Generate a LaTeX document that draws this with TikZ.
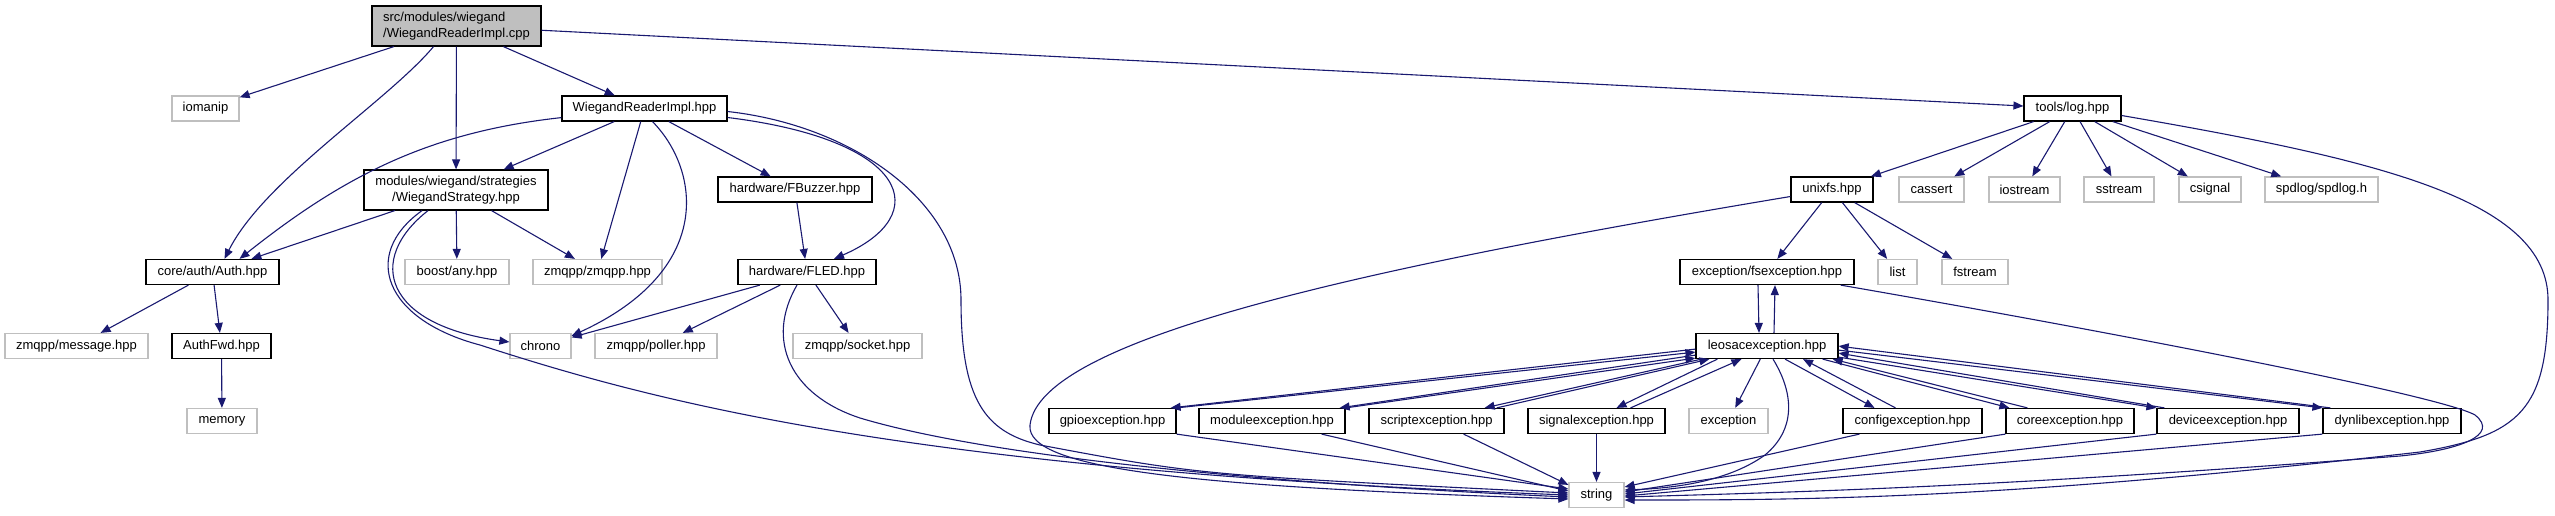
\documentclass[tikz,border=0pt]{standalone}
\usepackage{fontspec}
\setmainfont{Liberation Sans}
\usepackage{xcolor}
\usetikzlibrary{arrows.meta,calc,positioning}

\definecolor{edgeblue}{HTML}{191970}
\definecolor{sysgray}{HTML}{BFBFBF}

\begin{document}
\begin{tikzpicture}[x=1pt, y=-1pt,
    filebox/.style={draw=black, line width=1.2pt, minimum height=25pt, inner sep=0pt, font=\fontsize{13}{16}\selectfont},
    sysbox/.style={filebox, draw=sysgray},
    incl/.style={edgeblue, line width=1.1pt, -{Triangle[length=10pt, width=8pt]}}]
        \useasboundingbox (0,0) rectangle (2555,515);

        % Source file
        \node[filebox, fill=sysgray, minimum width=169, minimum height=40, align=left] (main) at (456.5,26) {src/modules/wiegand\\/WiegandReaderImpl.cpp};

        % Second row
        \node[sysbox, minimum width=67] (iomanip) at (205.5,108.5) {iomanip};
        \node[filebox, minimum width=165] (wri) at (644.5,108.5) {WiegandReaderImpl.hpp};
        \node[filebox, minimum width=97] (log) at (2072.5,108.5) {tools/log.hpp};

        % Third row
        \node[filebox, minimum width=184, minimum height=40, align=center] (ws) at (456,190) {modules/wiegand/strategies\\/WiegandStrategy.hpp};
        \node[filebox, minimum width=154] (fbuzzer) at (795,189.5) {hardware/FBuzzer.hpp};
        \node[filebox, minimum width=82] (unixfs) at (1832,189.5) {unixfs.hpp};
        \foreach \fname/\x/\w in {cassert/1931.5/65, iostream/2024.5/71, sstream/2119/70, csignal/2210/62}
            \node[sysbox, minimum width=\w] (\fname) at (\x,189.5) {\fname};
        \node[sysbox, minimum width=113] (spdlog) at (2321.5,189.5) {spdlog/spdlog.h};

        % Fourth row
        \node[filebox, minimum width=133] (auth) at (212.5,272) {core/auth/Auth.hpp};
        \node[sysbox, minimum width=104] (boostany) at (457,272) {boost/any.hpp};
        \node[sysbox, minimum width=129] (zmqpp) at (597.5,272) {zmqpp/zmqpp.hpp};
        \node[filebox, minimum width=138] (fled) at (807,272) {hardware/FLED.hpp};
        \node[filebox, minimum width=174] (fsexc) at (1767,272) {exception/fsexception.hpp};
        \node[sysbox, minimum width=39] (list) at (1897.5,272) {list};
        \node[sysbox, minimum width=66] (fstream) at (1975,272) {fstream};

        % Fifth row
        \node[sysbox, minimum width=143] (message) at (76.5,346) {zmqpp/message.hpp};
        \node[filebox, minimum width=99] (authfwd) at (221.5,346) {AuthFwd.hpp};
        \node[sysbox, minimum width=61] (chrono) at (540.5,346) {chrono};
        \node[sysbox, minimum width=122] (poller) at (656,346) {zmqpp/poller.hpp};
        \node[sysbox, minimum width=129] (socket) at (857.5,346) {zmqpp/socket.hpp};
        \node[filebox, minimum width=142] (leosac) at (1767,346) {leosacexception.hpp};

        % Sixth row
        \node[sysbox, minimum width=70] (memory) at (222,421) {memory};
        \foreach \fname/\x/\w in {gpio/1112.5/127, module/1272/146, script/1436.5/135, signal/1596.5/137, config/1912.5/139, core/2070/128, device/2228/142, dynlib/2392/138}
            \node[filebox, minimum width=\w] (\fname) at (\x,421) {\fname exception.hpp};
        \node[sysbox, minimum width=79] (exception) at (1728.5,421) {exception};

        % Bottom
        \node[sysbox, minimum width=55] (string) at (1596.5,495) {string};

        % Includes of the source file
        \draw[incl] (main) -- (iomanip);
        \draw[incl] ($(main.south)+(-23,0)$) .. controls (388,101) and (264,180) .. ($(auth.north)+(12,0)$);
        \draw[incl] (main) -- (ws);
        \draw[incl] (main) -- (wri);
        \draw[incl] (main) -- (log);

        % WiegandReaderImpl.hpp
        \draw[incl] ($(wri.south west)+(0,-4)$) .. controls (430,132) and (345,175) .. ($(auth.north)+(27,0)$);
        \draw[incl] (wri) -- (ws);
        \draw[incl] (wri) -- (zmqpp);
        \draw[incl] ($(wri.south)+(8,0)$) .. controls (700,170) and (715,270) .. ($(chrono.north east)+(0,3)$);
        \draw[incl] (wri) -- (fbuzzer);
        \draw[incl] ($(wri.east)+(0,9)$) .. controls (910,140) and (935,215) .. ($(fled.north)+(27,0)$);
        \draw[incl] ($(wri.east)+(0,3)$) .. controls (850,125) and (961,200) .. (961,300) .. controls (961,400) and (985,432) .. (1040,445) .. controls (1200,475) .. ($(string.west)+(0,-2)$);

        % WiegandStrategy.hpp
        \draw[incl] (ws) -- (auth);
        \draw[incl] (ws) -- (boostany);
        \draw[incl] (ws) -- (zmqpp);
        \draw[incl] ($(ws.south)+(-28,0)$) .. controls (365,260) and (385,325) .. ($(chrono.west)+(0,-4)$);
        \draw[incl] ($(ws.south)+(-34,0)$) .. controls (360,255) and (385,320) .. (480,345) .. controls (650,400) and (900,470) .. (string.west);

        % Auth.hpp
        \draw[incl] (auth) -- (message);
        \draw[incl] (auth) -- (authfwd);
        \draw[incl] (authfwd) -- (memory);

        % Hardware headers
        \draw[incl] (fbuzzer) -- (fled);
        \draw[incl] (fled) -- (chrono);
        \draw[incl] (fled) -- (poller);
        \draw[incl] (fled) -- (socket);
        \draw[incl] ($(fled.south)+(-10,0)$) .. controls (765,340) and (790,395) .. (860,418) .. controls (1000,460) and (1300,485) .. ($(string.west)+(0,2)$);

        % tools/log.hpp
        \foreach \dst in {unixfs, cassert, iostream, sstream, csignal, spdlog}
            \draw[incl] (log) -- (\dst);
        \draw[incl] ($(log.east)+(0,7)$) .. controls (2380,160) and (2548,200) .. (2548,300) .. controls (2548,410) and (2520,435) .. (2420,452) .. controls (2000,500) and (1800,500) .. ($(string.east)+(0,5)$);

        % unixfs.hpp
        \foreach \dst in {fsexc, list, fstream}
            \draw[incl] (unixfs) -- (\dst);
        \draw[incl] ($(unixfs.west)+(0,7)$) .. controls (1350,270) and (1040,340) .. (1030,425) .. controls (1025,470) and (1200,487) .. ($(string.west)+(0,4)$);

        % exception/fsexception.hpp
        \draw[incl] ($(fsexc.south)+(-9,0)$) -- ($(leosac.north)+(-8,0)$);
        \draw[incl] ($(fsexc.south east)+(-14,0)$) .. controls (2100,330) and (2440,395) .. (2475,415) .. controls (2500,435) and (2460,450) .. (2400,456) .. controls (2000,487) and (1800,492) .. ($(string.east)+(0,2)$);

        % leosacexception.hpp
        \draw[incl] ($(leosac.north)+(7,0)$) -- ($(fsexc.south)+(8,0)$);
        \draw[incl] (leosac) -- (exception);
        \draw[incl] ($(leosac.south)+(6,0)$) .. controls (1795,395) and (1795,430) .. (1765,455) .. controls (1730,480) and (1680,488) .. ($(string.east)+(0,-5)$);

        % Derived exceptions, both ways
        \draw[incl] ($(leosac.south west)+(0,-10)$) -- ($(gpio.north east)+(-6,0)$);
        \draw[incl] (gpio.north east) -- ($(leosac.south west)+(0,-7)$);
        \draw[incl] ($(leosac.south west)+(0,-4)$) -- ($(module.north east)+(-6,0)$);
        \draw[incl] (module.north east) -- ($(leosac.south west)+(0,-1)$);
        \draw[incl] ($(leosac.south west)+(6,0)$) -- ($(script.north east)+(-20,0)$);
        \draw[incl] ($(script.north east)+(-8,0)$) -- ($(leosac.south west)+(14,0)$);
        \draw[incl] ($(leosac.south west)+(22,0)$) -- ($(signal.north)+(20,0)$);
        \draw[incl] ($(signal.north)+(34,0)$) -- ($(leosac.south west)+(46,0)$);
        \draw[incl] ($(leosac.south)+(18,0)$) -- ($(config.north)+(-38,0)$);
        \draw[incl] ($(config.north)+(-17,0)$) -- ($(leosac.south)+(36,0)$);
        \draw[incl] ($(leosac.south east)+(-16,0)$) -- ($(core.north west)+(4,0)$);
        \draw[incl] ($(core.north west)+(22,0)$) -- ($(leosac.south east)+(-6,0)$);
        \draw[incl] ($(leosac.south east)+(0,-2)$) -- (device.north west);
        \draw[incl] ($(device.north west)+(8,0)$) -- ($(leosac.south east)+(0,-6)$);
        \draw[incl] ($(leosac.south east)+(0,-9)$) -- (dynlib.north west);
        \draw[incl] ($(dynlib.north west)+(8,0)$) -- ($(leosac.south east)+(0,-13)$);

        % Derived exceptions to string
        \draw[incl] (gpio.south east) -- ($(string.west)+(0,-6)$);
        \draw[incl] ($(module.south east)+(-24,0)$) -- ($(string.west)+(0,-4)$);
        \draw[incl] ($(script.south east)+(-41,0)$) -- ($(string.north west)+(0,3)$);
        \draw[incl] (signal) -- (string);
        \draw[incl] ($(config.south west)+(17,0)$) -- ($(string.east)+(0,-8)$);
        \draw[incl] (core.south west) -- ($(string.east)+(0,-3)$);
        \draw[incl] (device.south west) -- ($(string.east)+(0,-1)$);
        \draw[incl] (dynlib.south west) -- ($(string.east)+(0,1)$);
    \end{tikzpicture}
\end{document}
